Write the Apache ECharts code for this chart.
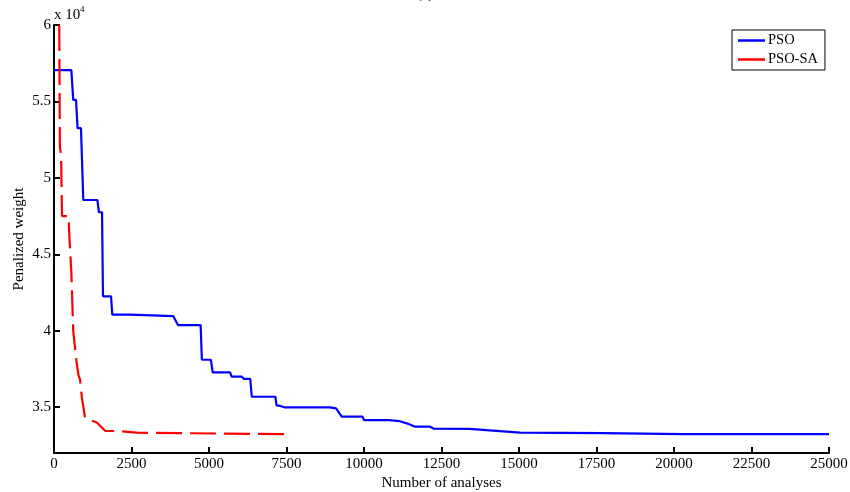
<!DOCTYPE html>
<html>
<head>
<meta charset="utf-8">
<script src="https://cdn.jsdelivr.net/npm/echarts@6/dist/echarts.min.js"></script>
<style>
  html, body { margin: 0; padding: 0; background: #fff; }
  #chart { width: 850px; height: 492px; }
</style>
</head>
<body>
<div id="chart"></div>
<script>
  // PSO curve (blue, solid)
  var psoX = [0, 560, 620, 710, 760, 870, 945, 1400, 1450, 1550, 1580, 1840, 1880, 2450, 2500, 3850, 3900, 4000,
    4730, 4770, 5060, 5120, 5680, 5730, 6050, 6120, 6330, 6380, 7140, 7180, 7300, 7450, 8900, 9100, 9280, 9950,
    10000, 10800, 11150, 11380, 11650, 12130, 12240, 13400, 14600, 15030, 17700, 20300, 25000];
  var psoY = [57050, 57050, 55100, 55100, 53250, 53250, 48550, 48550, 47750, 47750, 42250, 42250, 41050, 41050, 40950, 40950, 40750, 40370,
    40370, 38100, 38100, 37270, 37270, 37000, 37000, 36850, 36850, 35680, 35680, 35120, 35080, 34980, 34980, 34920, 34380, 34380,
    34150, 34150, 34080, 33940, 33720, 33720, 33600, 33580, 33400, 33330, 33300, 33230, 33230];

  // PSO-SA curve (red, dashed)
  var saX = [170, 190, 230, 250, 260, 470, 500, 560, 620, 730, 790, 840, 900, 950, 1000, 1160, 1380, 1480, 1650, 2130, 2670, 4000, 7560];
  var saY = [60000, 52000, 51500, 48500, 47500, 47500, 46000, 43800, 40000, 37900, 37100, 36800, 35600, 35000, 34300, 34150, 34000, 33800, 33450, 33430, 33330, 33300, 33230];

  var yTicks = [35000, 40000, 45000, 50000, 55000, 60000];

  function pairs(xs, ys) {
    var out = [];
    for (var i = 0; i < xs.length; i++) {
      out.push([xs[i], ys[i]]);
    }
    return out;
  }

  var font = 'Liberation Serif';
  var chart = echarts.init(document.getElementById('chart'));
  chart.setOption({
    animation: false,
    backgroundColor: '#fff',
    title: {
      text: '(a)',
      left: 'center',
      top: -18,
      textStyle: { fontFamily: font, fontSize: 15, fontWeight: 'normal', color: '#000' }
    },
    grid: { left: 54, right: 21, top: 25, bottom: 39, outerBoundsMode: 'none' },
    legend: {
      orient: 'vertical',
      left: 732,
      top: 30,
      data: [
        { name: 'PSO', icon: 'rect' },
        { name: 'PSO-SA', icon: 'rect' }
      ],
      borderColor: '#000',
      borderWidth: 1,
      borderRadius: 0,
      padding: [3, 7, 3, 6],
      itemWidth: 27,
      itemHeight: 2.5,
      itemGap: 4,
      textStyle: { fontFamily: font, fontSize: 14.5, color: '#000', padding: [0, 0, 0, -2] }
    },
    graphic: [
      { type: 'text', left: 54, top: 8, style: { text: 'x 10', font: '15px "Liberation Serif"', fill: '#000' } },
      { type: 'text', left: 80, top: 5, style: { text: '4', font: '9px "Liberation Serif"', fill: '#000' } }
    ],
    xAxis: {
      type: 'value',
      min: 0,
      max: 25000,
      interval: 2500,
      name: 'Number of analyses',
      nameLocation: 'middle',
      nameGap: 23,
      nameMoveOverlap: false,
      nameTextStyle: { fontFamily: font, fontSize: 15, color: '#000' },
      axisLine: { lineStyle: { color: '#000', width: 2 } },
      axisTick: { inside: true, length: 6, lineStyle: { color: '#000', width: 2 } },
      axisLabel: {
        fontFamily: font, fontSize: 15, color: '#000', margin: 4,
        formatter: function (v) { return String(v); }
      },
      splitLine: { show: false }
    },
    yAxis: {
      type: 'value',
      min: 32000,
      max: 60000,
      name: 'Penalized weight',
      nameLocation: 'middle',
      nameGap: 27,
      nameMoveOverlap: false,
      nameTextStyle: { fontFamily: font, fontSize: 15, color: '#000' },
      axisLine: { show: true, lineStyle: { color: '#000', width: 2 } },
      axisTick: { inside: true, length: 6, customValues: yTicks, lineStyle: { color: '#000', width: 2 } },
      axisLabel: {
        fontFamily: font, fontSize: 15, color: '#000', margin: 3,
        customValues: yTicks,
        formatter: function (v) { return String(v / 10000); }
      },
      splitLine: { show: false }
    },
    series: [
      {
        name: 'PSO',
        type: 'line',
        data: pairs(psoX, psoY),
        showSymbol: false,
        symbol: 'none',
        color: '#0000ff',
        lineStyle: { color: '#0000ff', width: 2.2 }
      },
      {
        name: 'PSO-SA',
        type: 'line',
        data: pairs(saX, saY),
        showSymbol: false,
        symbol: 'none',
        color: '#ff0000',
        lineStyle: { color: '#ff0000', width: 2.2, type: [26, 8] }
      }
    ]
  });
</script>
</body>
</html>
